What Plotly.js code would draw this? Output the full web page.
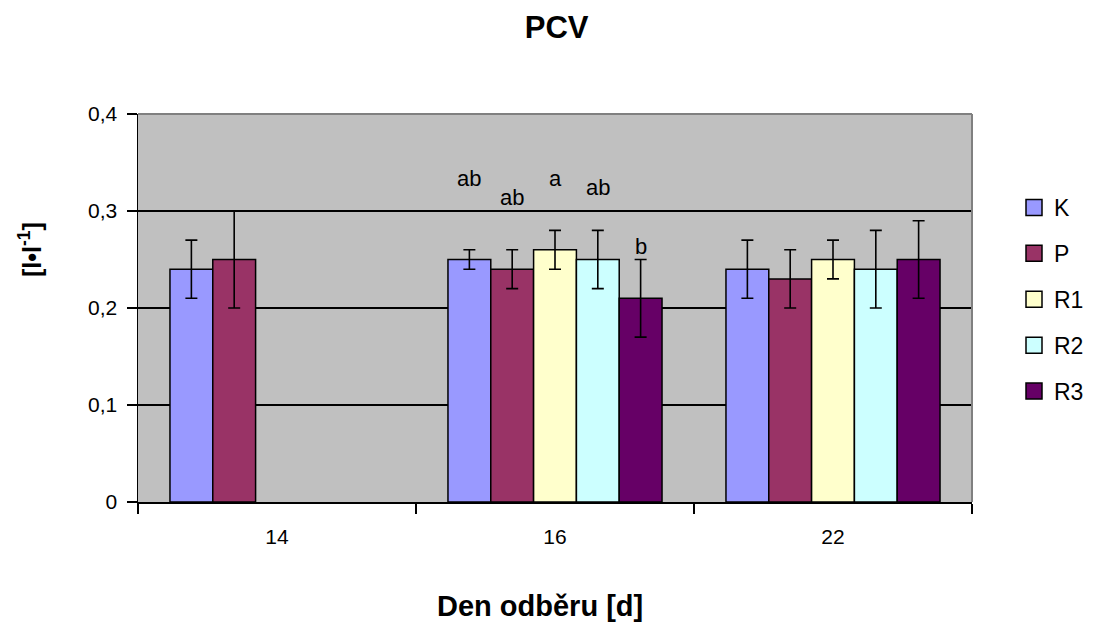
<!DOCTYPE html>
<html>
<head>
<meta charset="utf-8">
<script src="https://cdn.plot.ly/plotly-3.0.1.min.js"></script>
<style>
  html, body { margin: 0; padding: 0; background: #fff; }
  #chart { width: 1094px; height: 625px; }
</style>
</head>
<body>
<div id="chart"></div>
<script>
// Sampling days
const days = ['14', '16', '22'];

// Groups
const groups = ['K', 'P', 'R1', 'R2', 'R3'];

// Mean PCV per group, one value per day (null = not sampled)
const valK  = [0.24, 0.25, 0.24];
const valP  = [0.25, 0.24, 0.23];
const valR1 = [null, 0.26, 0.25];
const valR2 = [null, 0.25, 0.24];
const valR3 = [null, 0.21, 0.25];

// Standard deviations
const sdK  = [0.03, 0.01, 0.03];
const sdP  = [0.05, 0.02, 0.03];
const sdR1 = [null, 0.02, 0.02];
const sdR2 = [null, 0.03, 0.04];
const sdR3 = [null, 0.04, 0.04];

// Significance letters for day 16
const letters16 = ['ab', 'ab', 'a', 'ab', 'b'];

const colors = ['#9999FF', '#993366', '#FFFFCC', '#CCFFFF', '#660066'];
const values = [valK, valP, valR1, valR2, valR3];
const sds = [sdK, sdP, sdR1, sdR2, sdR3];

const FONT = 'Liberation Sans, Arial, sans-serif';
const BARGAP = 0.23;
const barWidth = (1 - BARGAP) / groups.length;

const bars = groups.map((g, i) => ({
  type: 'bar',
  name: g,
  x: days,
  y: values[i],
  legendgroup: g,
  showlegend: false,
  marker: { color: colors[i], line: { color: '#000', width: 1.5 } },
  error_y: { type: 'data', array: sds[i], visible: true, color: '#000', thickness: 1.6, width: 6 },
  hoverinfo: 'x+y+name'
}));

// Legend keys: larger square swatches than the default bar legend symbol
const keys = groups.map((g, i) => ({
  type: 'scatter',
  mode: 'markers',
  name: g,
  x: [days[0]],
  y: [null],
  legendgroup: g,
  showlegend: true,
  marker: { symbol: 'square', size: 16, color: colors[i], line: { color: '#000', width: 1.5 } },
  hoverinfo: 'skip'
}));

// Vertical placement of the day-16 letters
const letterY = [0.334, 0.314, 0.334, 0.324, 0.263];
const dayIdx = days.indexOf('16');
const letterAnn = letters16.map((t, i) => ({
  x: dayIdx + (i - (groups.length - 1) / 2) * barWidth,
  y: letterY[i],
  xref: 'x', yref: 'y',
  text: t, showarrow: false,
  yanchor: 'middle',
  font: { family: FONT, size: 22, color: '#000' }
}));

const layout = {
  width: 1094, height: 625,
  margin: { l: 138, r: 122, t: 114, b: 123 },
  paper_bgcolor: '#fff',
  plot_bgcolor: '#C0C0C0',
  separators: ', ',
  barmode: 'group',
  bargap: BARGAP,
  bargroupgap: 0,
  showlegend: true,
  legend: {
    xref: 'container', yref: 'container',
    x: 1014 / 1094, y: 1 - 186 / 625, xanchor: 'left', yanchor: 'top',
    font: { family: FONT, size: 23, color: '#000' },
    traceorder: 'grouped',
    tracegroupgap: 13,
    itemwidth: 30,
    bgcolor: 'rgba(0,0,0,0)'
  },
  title: {
    text: '<b>PCV</b>',
    x: 0.502, xref: 'paper', xanchor: 'center',
    y: 0.957, yref: 'container', yanchor: 'middle',
    font: { family: FONT, size: 31, color: '#000' }
  },
  xaxis: {
    type: 'category',
    tickson: 'boundaries',
    ticks: 'outside', ticklen: 10, tickwidth: 1.5, tickcolor: '#000',
    ticklabelstandoff: 15,
    showline: true, linecolor: '#000', linewidth: 1.5,
    showgrid: false,
    tickfont: { family: FONT, size: 21, color: '#000' },
    fixedrange: true
  },
  yaxis: {
    range: [0, 0.4],
    dtick: 0.1,
    ticks: 'outside', ticklen: 10, tickwidth: 1.5, tickcolor: '#000',
    ticklabelstandoff: 5,
    showline: true, linecolor: '#000', linewidth: 1.5,
    showgrid: true, gridcolor: '#000', gridwidth: 1.5,
    zeroline: false,
    tickfont: { family: FONT, size: 21, color: '#000' },
    fixedrange: true
  },
  shapes: [
    // grey frame on the top and right edges of the plot area
    { type: 'line', xref: 'paper', yref: 'paper', x0: 0, x1: 1, y0: 1, y1: 1,
      line: { color: '#808080', width: 2 }, layer: 'above' },
    { type: 'line', xref: 'paper', yref: 'paper', x0: 1, x1: 1, y0: 0, y1: 1,
      line: { color: '#808080', width: 2 }, layer: 'above' }
  ],
  annotations: letterAnn.concat([
    {
      text: '<b>[l•l<sup>-1</sup>]</b>',
      xref: 'paper', yref: 'paper',
      x: (30 - 138) / 834, y: (502 - 250) / 388,
      xanchor: 'center', yanchor: 'middle', textangle: -90, showarrow: false,
      font: { family: FONT, size: 25, color: '#000' }
    },
    {
      text: '<b>Den odběru [d]</b>',
      xref: 'paper', yref: 'paper', x: 0.482, y: -0.268,
      xanchor: 'center', yanchor: 'middle', showarrow: false,
      font: { family: FONT, size: 29, color: '#000' }
    }
  ])
};

Plotly.newPlot('chart', bars.concat(keys), layout, { displayModeBar: false, staticPlot: true });
</script>
</body>
</html>
